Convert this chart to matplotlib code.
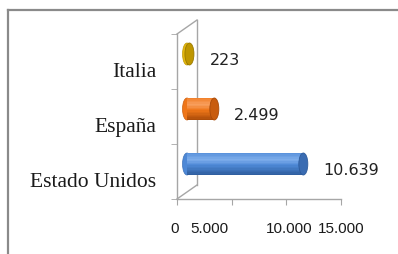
import matplotlib
matplotlib.use("Agg")
import matplotlib.pyplot as plt
import matplotlib.transforms as mtransforms
import matplotlib.colors as mcolors
import numpy as np
from matplotlib.patches import Ellipse
from matplotlib.lines import Line2D

categories = ["Estado Unidos", "España", "Italia"]
values = [10639, 2499, 223]
value_labels = ["10.639", "2.499", "223"]
xticks = [0, 5000, 10000, 15000]
xtick_labels = ["0", "5.000", "10.000", "15.000"]

body_colors = ["#4D88D6", "#EF7619", "#E4B70E"]
light_colors = ["#80AFEC", "#F8A060", "#F5D548"]
dark_colors = ["#2E5C9C", "#A84A08", "#9A7A00"]
cap_colors = ["#3A6CB2", "#C85C0E", "#BE9600"]

W, H = 398, 255
DPI = 100
fig = plt.figure(figsize=(W / DPI, H / DPI), dpi=DPI)
fig.patch.set_facecolor("white")

# frame
frame_c = "#8A8A8A"
fig.add_artist(Line2D([8 / W, 8 / W], [0, 1 - 11 / H], color=frame_c, lw=1.6, transform=fig.transFigure))
fig.add_artist(Line2D([8 / W, 1], [1 - 11 / H, 1 - 11 / H], color=frame_c, lw=1.6, transform=fig.transFigure))

ax = fig.add_axes([177 / W, 55 / H, 164 / W, 165 / H])
ax.set_xlim(0, 15000)
y0 = -20 / 55
ax.set_ylim(y0, y0 + 3)

axis_c = "#A6A6A6"
for s in ["top", "right"]:
    ax.spines[s].set_visible(False)
for s in ["left", "bottom"]:
    ax.spines[s].set_color(axis_c)
    ax.spines[s].set_linewidth(1.0)

def px_offset(dx, dy):
    return mtransforms.ScaledTranslation(dx / DPI, dy / DPI, fig.dpi_scale_trans)

# side wall
ox, oy = 20, 14
wall_off = ax.transAxes + px_offset(ox, oy)
ax.add_line(Line2D([0, 0], [0, 1], transform=wall_off, color=axis_c, lw=1.0, clip_on=False))
for yy in (0, 1):
    p0 = ax.transAxes.transform((0, yy))
    p1 = p0 + [ox, oy]
    ax.add_line(Line2D([p0[0], p1[0]], [p0[1], p1[1]], transform=None, color=axis_c, lw=1.0, clip_on=False))

def mix(a, b, t):
    a = np.array(mcolors.to_rgb(a)); b = np.array(mcolors.to_rgb(b))
    return tuple(a + (b - a) * t)

# bars as cylinders
bar_off = ax.transData + px_offset(10, 15)
bh = 0.40
cap_w = 9 * 15000 / 164
nstrip = 16
for i, (v, c, lc, dc, cc) in enumerate(zip(values, body_colors, light_colors, dark_colors, cap_colors)):
    ax.add_patch(Ellipse((0, i), cap_w, bh, facecolor=c, edgecolor=mix(dc, c, 0.5), lw=0.5,
                         transform=bar_off, clip_on=False, zorder=2.9))
    sh = bh / nstrip
    for k in range(nstrip):
        f = (k + 0.5) / nstrip  # 0 bottom -> 1 top
        if f < 0.45:
            col = mix(dc, c, f / 0.45)
        elif f < 0.7:
            col = mix(c, lc, (f - 0.45) / 0.25)
        else:
            col = mix(lc, c, (f - 0.7) / 0.3 * 0.8)
        ax.barh([i - bh / 2 + sh * (k + 0.5)], [v], height=sh * 1.05, color=col,
                transform=bar_off, clip_on=False, zorder=3, linewidth=0)
    ax.add_patch(Ellipse((v, i), cap_w, bh, facecolor=cc, edgecolor=dc, lw=0.6, transform=bar_off, clip_on=False, zorder=4))

# value labels
lab_off = ax.transData + px_offset(30, 9)
for i, (v, t) in enumerate(zip(values, value_labels)):
    ax.text(v, i, t, transform=lab_off, ha="left", va="center",
            fontsize=11.5, family="DejaVu Sans", color="#222222", clip_on=False)

# y axis
ax.set_yticks(range(len(categories)))
ax.set_yticklabels(categories, family="Liberation Serif", fontsize=15.5, color="#1a1a1a")
ax.tick_params(axis="y", which="major", length=0, pad=15)
ax.set_yticks([y0 + k for k in range(4)], minor=True)
ax.tick_params(axis="y", which="minor", length=4, color=axis_c, direction="out")

# x axis
ax.set_xticks(xticks)
ax.set_xticklabels(xtick_labels, family="Liberation Sans", fontsize=11, color="#1a1a1a")
ax.tick_params(axis="x", length=4, color=axis_c, direction="out", pad=12)
shifts = [-2, -22, 3, 0]
for lab, s in zip(ax.get_xticklabels(), shifts):
    lab.set_transform(lab.get_transform() + px_offset(s, 0))

fig.savefig("out.png", dpi=DPI, facecolor="white")
